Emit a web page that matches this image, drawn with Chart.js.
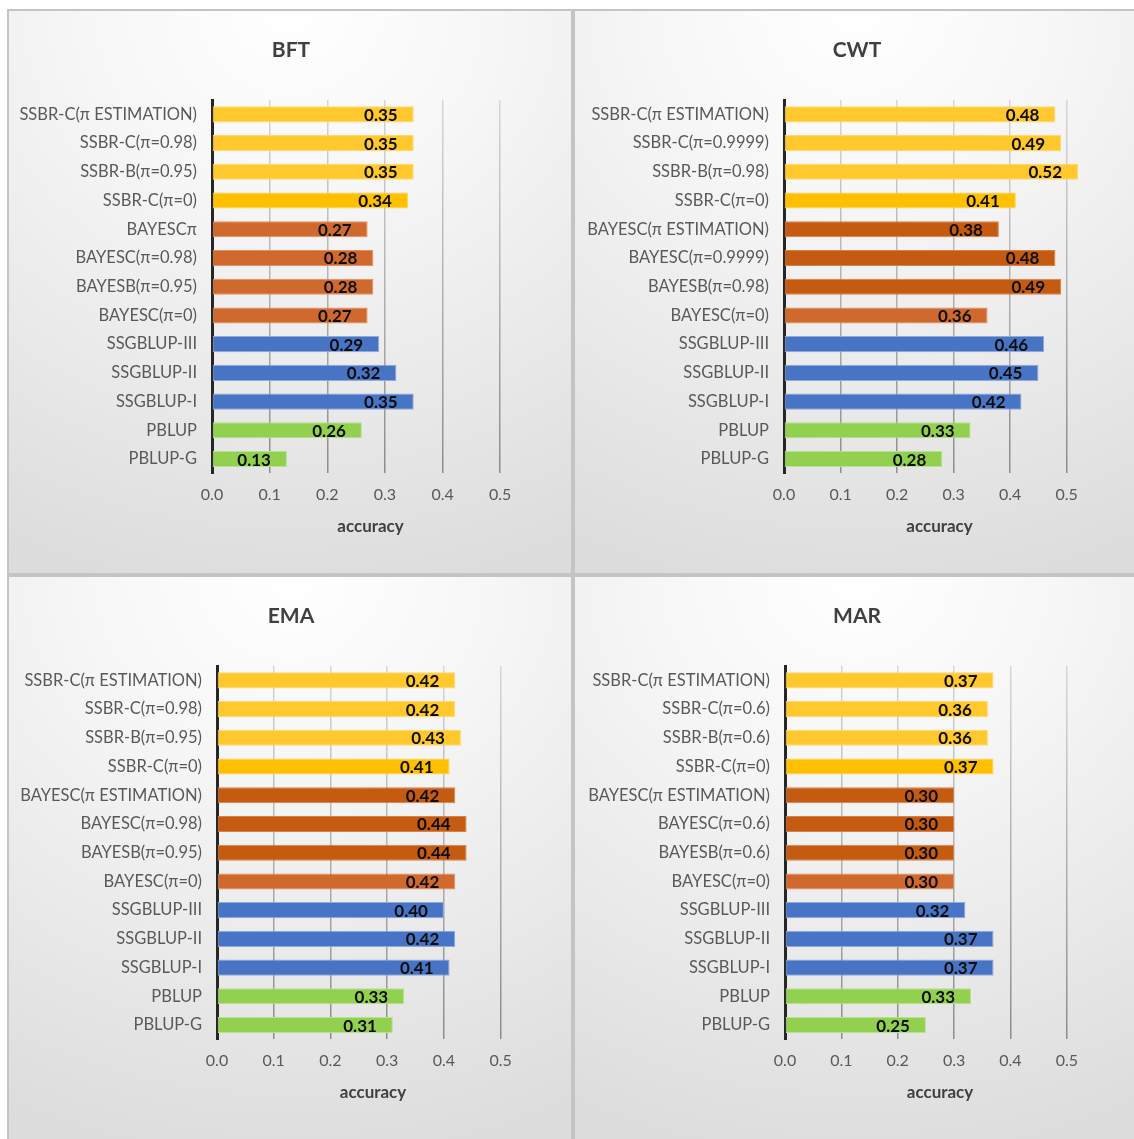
<!DOCTYPE html>
<html>
<head>
<meta charset="utf-8">
<script src="https://cdn.jsdelivr.net/npm/chart.js@4/dist/chart.umd.min.js"></script>
<style>
  html, body { margin: 0; padding: 0; background: #ffffff; width: 1134px; height: 1139px; overflow: hidden; }
  .panel {
    position: absolute; width: 566px; height: 566px; box-sizing: border-box;
    background: radial-gradient(ellipse 115% 105% at 50% 0%, #ffffff 0%, #f7f7f7 30%, #e8e8e8 70%, #dcdcdc 100%);
    box-shadow: inset 0 0 0 2px #c4c4c4;
  }
  .panel canvas { position: absolute; left: 0; top: 0; }
</style>
</head>
<body>
<div class="panel" style="left:7px; top:9px;"><canvas id="bft" width="566" height="566"></canvas></div>
<div class="panel" style="left:573px; top:9px;"><canvas id="cwt" width="566" height="566"></canvas></div>
<div class="panel" style="left:7px; top:575px;"><canvas id="ema" width="566" height="566"></canvas></div>
<div class="panel" style="left:573px; top:575px;"><canvas id="mar" width="566" height="566"></canvas></div>

<script>
// ---- data: one block per trait, categories listed top to bottom ----
const bftLabels = ['SSBR-C(π ESTIMATION)', 'SSBR-C(π=0.98)', 'SSBR-B(π=0.95)', 'SSBR-C(π=0)',
  'BAYESCπ', 'BAYESC(π=0.98)', 'BAYESB(π=0.95)', 'BAYESC(π=0)',
  'SSGBLUP-III', 'SSGBLUP-II', 'SSGBLUP-I', 'PBLUP', 'PBLUP-G'];
const bftValues = [0.35, 0.35, 0.35, 0.34, 0.27, 0.28, 0.28, 0.27, 0.29, 0.32, 0.35, 0.26, 0.13];

const cwtLabels = ['SSBR-C(π ESTIMATION)', 'SSBR-C(π=0.9999)', 'SSBR-B(π=0.98)', 'SSBR-C(π=0)',
  'BAYESC(π ESTIMATION)', 'BAYESC(π=0.9999)', 'BAYESB(π=0.98)', 'BAYESC(π=0)',
  'SSGBLUP-III', 'SSGBLUP-II', 'SSGBLUP-I', 'PBLUP', 'PBLUP-G'];
const cwtValues = [0.48, 0.49, 0.52, 0.41, 0.38, 0.48, 0.49, 0.36, 0.46, 0.45, 0.42, 0.33, 0.28];

const emaLabels = ['SSBR-C(π ESTIMATION)', 'SSBR-C(π=0.98)', 'SSBR-B(π=0.95)', 'SSBR-C(π=0)',
  'BAYESC(π ESTIMATION)', 'BAYESC(π=0.98)', 'BAYESB(π=0.95)', 'BAYESC(π=0)',
  'SSGBLUP-III', 'SSGBLUP-II', 'SSGBLUP-I', 'PBLUP', 'PBLUP-G'];
const emaValues = [0.42, 0.42, 0.43, 0.41, 0.42, 0.44, 0.44, 0.42, 0.40, 0.42, 0.41, 0.33, 0.31];

const marLabels = ['SSBR-C(π ESTIMATION)', 'SSBR-C(π=0.6)', 'SSBR-B(π=0.6)', 'SSBR-C(π=0)',
  'BAYESC(π ESTIMATION)', 'BAYESC(π=0.6)', 'BAYESB(π=0.6)', 'BAYESC(π=0)',
  'SSGBLUP-III', 'SSGBLUP-II', 'SSGBLUP-I', 'PBLUP', 'PBLUP-G'];
const marValues = [0.37, 0.36, 0.36, 0.37, 0.30, 0.30, 0.30, 0.30, 0.32, 0.37, 0.37, 0.33, 0.25];

const xTickValues = [0, 0.1, 0.2, 0.3, 0.4, 0.5];

// ---- styling ----
const FONT = 'Lato, "Open Sans", sans-serif';
Chart.defaults.font.family = FONT;

const PALETTE = {
  ssbr:      { fill: '#FFC82C', edge: '#FFD969' },
  ssbrZero:  { fill: '#FFC000', edge: '#FFD24D' },
  bayesDark: { fill: '#C55A11', edge: '#D9804A' },
  bayesLight:{ fill: '#D0692D', edge: '#E08E5E' },
  blue:      { fill: '#4874C5', edge: '#8EAADB' },
  green:     { fill: '#92D050', edge: '#B8E290' }
};

function groupOf(label, allLightBayes) {
  if (label.startsWith('SSBR')) return label.includes('π=0)') ? 'ssbrZero' : 'ssbr';
  if (label.startsWith('BAYES')) return (allLightBayes || label.includes('π=0)')) ? 'bayesLight' : 'bayesDark';
  if (label.startsWith('SSGBLUP')) return 'blue';
  return 'green';
}

// vertical value gridlines fade from light at the top to darker at the bottom
function gridGradient(chart) {
  const area = chart.chartArea;
  if (!area) return '#a6a6a6';
  const g = chart.ctx.createLinearGradient(0, area.top, 0, area.bottom);
  g.addColorStop(0, '#d6d6d6');
  g.addColorStop(1, '#8c8c8c');
  return g;
}

// panel heading, centred on the whole panel
const panelTitle = {
  id: 'panelTitle',
  afterDraw(chart, args, opts) {
    const { ctx } = chart;
    ctx.save();
    ctx.font = 'bold 21px ' + FONT;
    ctx.fillStyle = '#404040';
    ctx.textAlign = 'center';
    ctx.textBaseline = 'middle';
    ctx.fillText(opts.text, chart.width / 2 + 1, 41);
    ctx.restore();
  }
};

// value printed inside the end of each bar
const valueLabels = {
  id: 'valueLabels',
  afterDatasetsDraw(chart) {
    const { ctx } = chart;
    const meta = chart.getDatasetMeta(0);
    const data = chart.data.datasets[0].data;
    ctx.save();
    ctx.font = 'bold 17px ' + FONT;
    ctx.fillStyle = '#0d0d0d';
    ctx.textAlign = 'right';
    ctx.textBaseline = 'middle';
    meta.data.forEach((bar, i) => {
      ctx.fillText(data[i].toFixed(2), bar.x - 16, bar.y + 1);
    });
    ctx.restore();
  }
};

function makeChart(id, title, labels, values, axisLeft, allLightBayes) {
  const groups = labels.map(l => groupOf(l, allLightBayes));
  return new Chart(document.getElementById(id), {
    type: 'bar',
    data: {
      labels: labels,
      datasets: [{
        data: values,
        backgroundColor: groups.map(g => PALETTE[g].fill),
        borderColor: groups.map(g => PALETTE[g].edge),
        borderWidth: 1,
        borderSkipped: false,
        categoryPercentage: 1,
        barPercentage: 0.56
      }]
    },
    options: {
      indexAxis: 'y',
      responsive: false,
      animation: false,
      layout: { padding: { left: 0, right: 44, top: 91, bottom: 38 } },
      plugins: {
        legend: { display: false },
        tooltip: { enabled: false },
        title: { display: false },
        panelTitle: { text: title }
      },
      scales: {
        y: {
          type: 'category',
          grid: { display: false, drawTicks: false },
          border: { display: true, color: '#262626', width: 3 },
          ticks: { color: '#595959', font: { size: 16.5 }, padding: 15, autoSkip: false },
          afterFit(scale) { scale.width = axisLeft; }
        },
        x: {
          type: 'linear', min: 0, max: 0.55,
          afterBuildTicks(scale) {
            scale.ticks = xTickValues.map(v => ({ value: v }));
          },
          ticks: {
            color: '#595959', font: { size: 16 }, padding: 12,
            callback: v => Number(v).toFixed(1)
          },
          grid: {
            drawTicks: false,
            lineWidth: 1.5,
            color: c => (c.tick && c.tick.value === 0) ? 'rgba(0,0,0,0)' : gridGradient(c.chart)
          },
          border: { display: false },
          title: {
            display: true, text: 'accuracy', color: '#404040',
            font: { size: 17, weight: 'bold' },
            padding: { top: 0, bottom: 0 }
          }
        }
      }
    },
    plugins: [valueLabels, panelTitle]
  });
}

makeChart('bft', 'BFT', bftLabels, bftValues, 205, true);
makeChart('cwt', 'CWT', cwtLabels, cwtValues, 211, false);
makeChart('ema', 'EMA', emaLabels, emaValues, 210, false);
makeChart('mar', 'MAR', marLabels, marValues, 212, false);
</script>
</body>
</html>
